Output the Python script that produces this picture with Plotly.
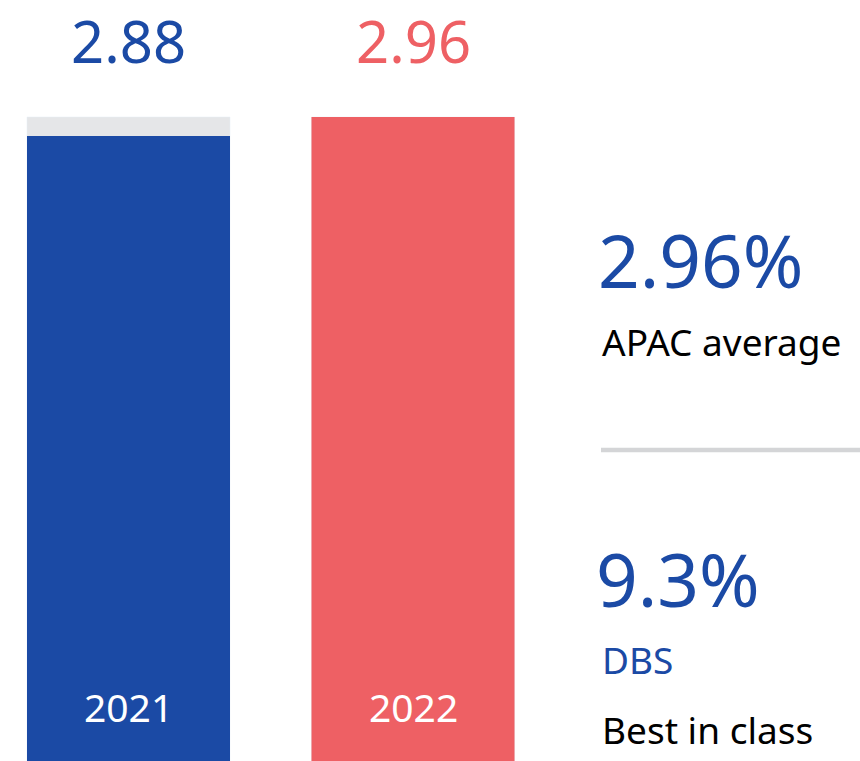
import plotly.graph_objects as go

years = ["2021", "2022"]
values = [2.88, 2.96]
bar_colors = ["#1B4AA5", "#EE6064"]
track_value = max(values)

apac_value = "2.96%"
apac_label = "APAC average"
best_value = "9.3%"
best_bank = "DBS"
best_label = "Best in class"

W, H = 860, 761
FONT = "Noto Sans"
BLUE = "#1B4AA5"

xs = list(range(len(years)))

fig = go.Figure()
fig.add_trace(go.Bar(x=xs, y=[track_value] * len(xs), marker_color="#E5E6E8",
                     width=0.7135, hoverinfo="skip", showlegend=False))
fig.add_trace(go.Bar(x=xs, y=values, marker_color=bar_colors, marker_line_width=0,
                     width=0.7135, showlegend=False))

ann = []
def py(px):
    return 1 - px / H

for i, (yr, v, c) in enumerate(zip(years, values, bar_colors)):
    ann.append(dict(x=i, xref="x", y=py(41), yref="paper", text=f"{v:.2f}",
                    showarrow=False, font=dict(family=FONT, size=58, color=c),
                    xanchor="center", yanchor="middle"))
    ann.append(dict(x=i, xref="x", y=py(706), yref="paper", text=yr,
                    showarrow=False, font=dict(family=FONT, size=39, color="white"),
                    xanchor="center", yanchor="middle"))

side = [
    (apac_value, 260, 73, BLUE, 596),
    (apac_label, 341, 37, "black", 600),
    (best_value, 578, 73, BLUE, 594),
    (best_bank, 659, 37, BLUE, 600),
    (best_label, 729, 37, "black", 600),
]
for t, ypx, s, c, xpx in side:
    ann.append(dict(x=xpx / W, xref="paper", y=py(ypx), yref="paper", text=t,
                    showarrow=False, font=dict(family=FONT, size=s, color=c),
                    xanchor="left", yanchor="middle"))

ppu = 237.5
top = track_value + 117 / ppu
bottom = top - H / ppu
xu = 284.5
x0 = -128.5 / xu
x1 = x0 + W / xu

fig.update_layout(
    width=W, height=H, margin=dict(l=0, r=0, t=0, b=0),
    paper_bgcolor="white", plot_bgcolor="white",
    barmode="overlay", annotations=ann,
    xaxis=dict(range=[x0, x1], visible=False, fixedrange=True),
    yaxis=dict(range=[bottom, top], visible=False, fixedrange=True),
    shapes=[dict(type="line", xref="paper", yref="paper", x0=601 / W, x1=1,
                 y0=py(450), y1=py(450), line=dict(color="#D4D5D7", width=4.5))],
)
fig.write_html("out.html", config={"displayModeBar": False},
               post_script="document.body.style.margin='0';document.body.style.overflow='hidden';")
